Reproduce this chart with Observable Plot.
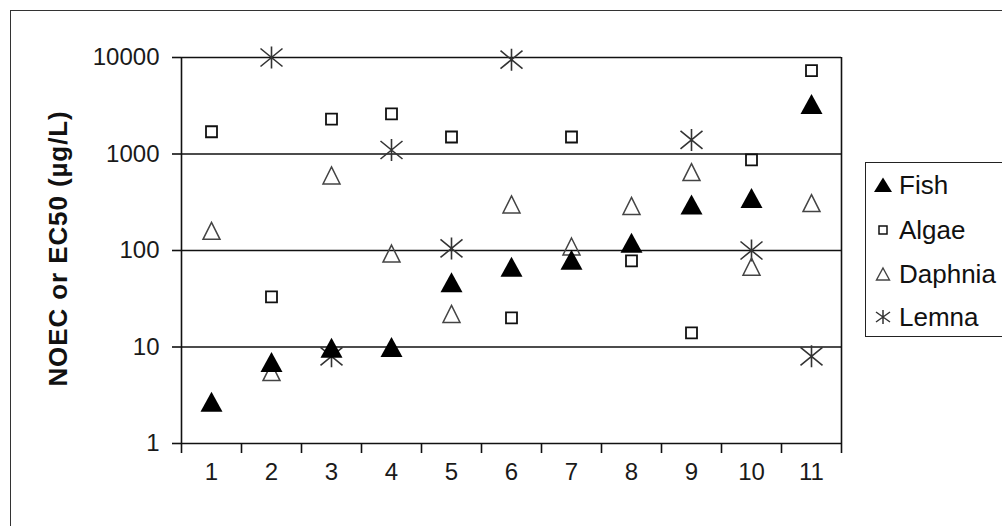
<!DOCTYPE html>
<html>
<head>
<meta charset="utf-8">
<script src="https://cdn.jsdelivr.net/npm/d3@7"></script>
<script src="https://cdn.jsdelivr.net/npm/@observablehq/plot@0.6"></script>
<style>
  html, body { margin: 0; padding: 0; background: #fff; overflow: hidden; }
  #wrap { position: relative; width: 1002px; height: 526px; overflow: hidden; font-family: "Liberation Sans", Arial, sans-serif; }
  #wrap svg.plot { position: absolute; left: 0; top: 0; }
  #outer { position: absolute; left: 10px; top: 10px; width: 1100px; height: 600px; border-left: 1.5px solid #333; border-top: 1.5px solid #333; box-sizing: border-box; }
  #legend { position: absolute; left: 865px; top: 162px; width: 200px; height: 175px; border: 1.5px solid #222; box-sizing: border-box; background: #fff; }
  #legend .row { position: absolute; left: 0; height: 30px; display: flex; align-items: center; font-size: 26px; color: #111; }
  #legend .row svg { width: 30px; height: 30px; margin-left: 2px; margin-right: 1px; }
</style>
</head>
<body>
<div id="wrap">
  <div id="outer"></div>
</div>
<script>
// ---- data ----
const categories = [1, 2, 3, 4, 5, 6, 7, 8, 9, 10, 11];
const fish    = [2.7, 7, 9.8, 10, 47, 68, 80, 120, 300, 350, 3300];
const algae   = [1700, 33, 2300, 2600, 1500, 20, 1500, 78, 14, 870, 7300];
const daphnia = [160, 5.5, 600, 93, 22, 300, 110, 290, 650, 68, 310];
const lemna   = [null, 10000, 8, 1100, 105, 9500, null, null, 1400, 100, 8];
const seriesNames = ["Fish", "Algae", "Daphnia", "Lemna"];
const yTicks = [1, 10, 100, 1000, 10000];
const gridValues = [10, 100, 1000, 10000];
const yTitle = "NOEC or EC50 (µg/L)";

// ---- helpers ----
const rows = (vals) => categories.map((c, i) => ({x: c, y: vals[i]})).filter(d => d.y != null);
const boundaries = [...categories.map(c => c - 0.5), categories[categories.length - 1] + 0.5];

// custom Excel-like marker shapes
const triFilled = {draw(ctx) { ctx.moveTo(0, -10); ctx.lineTo(11, 10); ctx.lineTo(-11, 10); ctx.closePath(); }};
const triHollow = {draw(ctx) { ctx.moveTo(0, -8.5); ctx.lineTo(8.5, 8.5); ctx.lineTo(-8.5, 8.5); ctx.closePath(); }};
const sq = {draw(ctx) { ctx.moveTo(-5.5, -5.5); ctx.lineTo(5.5, -5.5); ctx.lineTo(5.5, 5.5); ctx.lineTo(-5.5, 5.5); ctx.closePath(); }};
const star = {draw(ctx) {
  ctx.moveTo(0, -11); ctx.lineTo(0, 11);
  ctx.moveTo(-11, -9); ctx.lineTo(11, 9);
  ctx.moveTo(-11, 9); ctx.lineTo(11, -9);
}};

const plot = Plot.plot({
  width: 1002,
  height: 526,
  marginLeft: 181,
  marginRight: 161,
  marginTop: 57,
  marginBottom: 83,
  style: {fontFamily: "'Liberation Sans', Arial, sans-serif", fontSize: "24px", color: "#1a1a1a", background: "transparent"},
  x: {type: "linear", domain: [boundaries[0], boundaries[boundaries.length - 1]]},
  y: {type: "log", domain: [1, 10000]},
  marks: [
    Plot.ruleY(gridValues, {stroke: "#111", strokeWidth: 1.6}),
    Plot.ruleY([1], {stroke: "#111", strokeWidth: 1.6}),
    Plot.ruleX([boundaries[0], boundaries[boundaries.length - 1]], {stroke: "#111", strokeWidth: 1.6}),
    Plot.axisY({ticks: yTicks, tickSize: 9, tickPadding: 13, tickFormat: d => String(d), label: null, stroke: "#111", strokeWidth: 1.6, fontSize: 24}),
    Plot.axisX({ticks: boundaries, tickSize: 10, tickFormat: () => "", label: null, stroke: "#111", strokeWidth: 1.6}),
    Plot.axisX({ticks: categories, tickSize: 0, tickPadding: 19, tickFormat: d => String(d), label: null, fontSize: 24}),
    Plot.text([yTitle], {frameAnchor: "left", dx: -123, dy: -2, rotate: -90, fontWeight: "bold", fontSize: 26, fill: "#111", textAnchor: "middle", lineAnchor: "middle", style: "letter-spacing: 0.9px"}),
    Plot.dot(rows(lemna), {x: "x", y: "y", symbol: star, fill: "none", stroke: "#333", strokeWidth: 1.6, r: 10}),
    Plot.dot(rows(daphnia), {x: "x", y: "y", symbol: triHollow, fill: "none", stroke: "#444", strokeWidth: 1.5, r: 8}),
    Plot.dot(rows(algae), {x: "x", y: "y", symbol: sq, fill: "none", stroke: "#111", strokeWidth: 1.8, r: 6}),
    Plot.dot(rows(fish), {x: "x", y: "y", symbol: triFilled, fill: "#000", stroke: "none", r: 10})
  ]
});
plot.classList.add("plot");
// widen the rotated title slightly to match the reference length
plot.querySelectorAll("text").forEach(t => { if (t.textContent === yTitle) t.setAttribute("letter-spacing", "0.9"); });
const wrap = document.getElementById("wrap");
wrap.appendChild(plot);

// ---- legend ----
const legendIcons = {
  Fish: '<path d="M0,-7.5 L9,7 L-9,7 Z" fill="#000"/>',
  Algae: '<rect x="-4" y="-4" width="8" height="8" fill="none" stroke="#111" stroke-width="1.5"/>',
  Daphnia: '<path d="M0,-6 L6.5,6 L-6.5,6 Z" fill="none" stroke="#444" stroke-width="1.4"/>',
  Lemna: '<path d="M0,-7 L0,7 M-7,-5 L7,5 M-7,5 L7,-5" fill="none" stroke="#333" stroke-width="1.5"/>'
};
const legendTops = [7, 52, 96, 139];
const legend = document.createElement("div");
legend.id = "legend";
seriesNames.forEach((name, i) => {
  const row = document.createElement("div");
  row.className = "row";
  row.style.top = legendTops[i] + "px";
  row.innerHTML = `<svg viewBox="-15 -15 30 30">${legendIcons[name]}</svg><span>${name}</span>`;
  legend.appendChild(row);
});
wrap.appendChild(legend);
</script>
</body>
</html>
